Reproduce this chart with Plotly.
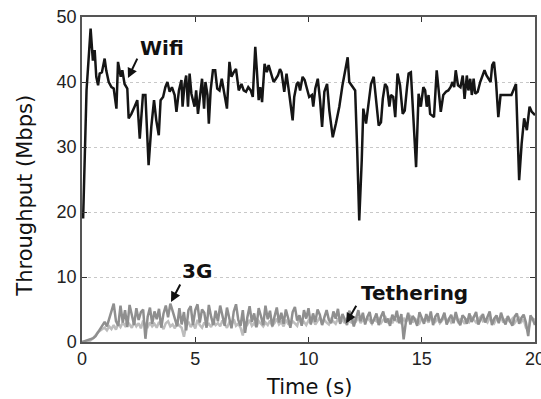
import plotly.graph_objects as go

# Wifi throughput trace (time in s, Mbps)
wifi_t = [0.05, 0.2, 0.38, 0.48, 0.56, 0.63, 0.71, 0.78, 0.88, 1.0, 1.07, 1.18,
          1.3, 1.4, 1.52, 1.59, 1.71, 1.78, 1.88, 2.0, 2.06, 2.18, 2.32, 2.44,
          2.55, 2.69, 2.8, 2.84, 2.94, 3.06, 3.18, 3.28, 3.39, 3.47, 3.58, 3.68,
          3.77, 3.87, 3.97, 4.09, 4.17, 4.28, 4.39, 4.44, 4.53, 4.6, 4.68, 4.75,
          4.83, 4.97, 5.04, 5.12, 5.2, 5.3, 5.39, 5.45, 5.54, 5.6, 5.68, 5.78,
          5.88, 5.97, 6.07, 6.17, 6.26, 6.4, 6.51, 6.6, 6.7, 6.8, 6.92, 7.04,
          7.14, 7.24, 7.34, 7.45, 7.54, 7.65, 7.72, 7.8, 7.87, 7.95, 8.06, 8.16,
          8.24, 8.36, 8.46, 8.56, 8.65, 8.74, 8.81, 8.93, 9.03, 9.13, 9.22, 9.3,
          9.37, 9.48, 9.55, 9.63, 9.74, 9.83, 9.93, 10.03, 10.15, 10.21, 10.3,
          10.41, 10.51, 10.6, 10.7, 10.82, 10.92, 11.07, 11.21, 11.36, 11.5,
          11.65, 11.73, 11.8, 11.95, 12.06, 12.15, 12.24, 12.35, 12.42, 12.54,
          12.66, 12.76, 12.88, 12.99, 13.1, 13.2, 13.28, 13.38, 13.47, 13.57,
          13.64, 13.74, 13.83, 13.93, 14.04, 14.16, 14.25, 14.35, 14.42, 14.52,
          14.63, 14.75, 14.86, 14.96, 15.07, 15.15, 15.22, 15.3, 15.37, 15.48,
          15.54, 15.66, 15.76, 15.84, 15.95, 16.07, 16.17, 16.27, 16.36, 16.43,
          16.5, 16.6, 16.71, 16.81, 16.89, 16.99, 17.06, 17.14, 17.21, 17.29,
          17.36, 17.47, 17.58, 17.7, 17.77, 17.86, 17.96, 18.04, 18.11, 18.19,
          18.28, 18.38, 18.48, 18.74, 18.96, 19.16, 19.3, 19.41, 19.52, 19.64,
          19.76, 19.86, 20.0]
wifi_v = [19.0, 38.7, 48.2, 43.3, 44.9, 40.8, 39.5, 41.3, 41.5, 43.6, 41.8, 40.0,
          39.2, 39.0, 35.9, 43.1, 40.8, 41.8, 39.7, 39.0, 34.4, 35.1, 36.2, 37.2,
          31.3, 38.0, 38.0, 35.1, 27.2, 33.1, 37.2, 34.1, 31.8, 37.2, 37.7, 39.2,
          40.0, 38.5, 39.2, 38.0, 35.4, 38.7, 40.3, 36.2, 39.7, 41.0, 36.2, 41.3,
          38.2, 36.2, 38.7, 35.1, 38.0, 40.5, 35.9, 40.0, 38.0, 33.6, 38.7, 41.8,
          41.8, 39.0, 38.7, 40.5, 38.7, 35.9, 43.1, 40.8, 41.5, 42.0, 38.7, 39.7,
          38.7, 38.5, 39.2, 38.7, 37.7, 45.4, 41.8, 37.2, 39.2, 36.9, 42.8, 41.5,
          42.6, 41.3, 40.0, 40.5, 41.0, 42.0, 41.5, 38.5, 41.3, 38.7, 36.2, 34.1,
          37.7, 39.7, 40.0, 38.7, 40.8, 40.3, 39.0, 37.7, 38.0, 36.2, 39.0, 40.5,
          37.2, 33.1, 38.5, 39.7, 35.6, 31.5, 33.6, 36.2, 39.5, 42.0, 43.8, 40.0,
          39.2, 38.7, 29.5, 18.7, 27.9, 35.9, 33.6, 37.4, 39.7, 40.8, 36.7, 33.3,
          33.8, 37.4, 39.7, 39.2, 36.2, 38.0, 37.7, 34.6, 41.3, 39.5, 35.1, 35.6,
          39.2, 41.3, 41.5, 34.6, 26.9, 38.2, 36.2, 39.2, 38.7, 36.2, 38.0, 35.1,
          34.7, 34.6, 41.8, 38.0, 35.4, 38.0, 38.5, 38.7, 39.2, 40.0, 39.2, 41.8,
          39.5, 39.2, 41.0, 37.4, 41.0, 38.7, 40.5, 38.0, 40.5, 38.2, 38.5, 40.0,
          41.0, 41.8, 41.0, 40.5, 40.0, 42.6, 43.1, 40.0, 34.6, 38.0, 38.0, 38.0,
          39.7, 24.9, 30.5, 34.4, 32.6, 36.2, 35.4, 34.9]

# Cellular traces sampled every 0.1 s
cell_t = [round(0.1 * i, 1) for i in range(201)]
g3_v = [0.0, 0.1, 0.2, 0.3, 0.4, 0.6, 0.9, 1.4, 2.0, 2.6,
        3.1, 2.4, 3.5, 4.8, 5.9, 3.2, 2.5, 5.6, 3.0, 4.9,
        2.3, 5.7, 4.1, 2.6, 5.2, 3.4, 4.6, 5.0, 0.5, 3.9,
        5.3, 2.8, 4.7, 3.5, 5.1, 2.2, 4.4, 5.6, 3.8, 5.9,
        4.8, 3.5, 2.4, 5.2, 2.7, 4.6, 1.8, 4.9, 5.5, 2.6,
        4.9, 5.8, 3.0, 5.0, 4.5, 2.2, 5.7, 3.9, 2.6, 4.8,
        3.2, 5.6, 4.1, 2.5, 5.3, 3.6, 2.1, 4.7, 5.8, 3.4,
        2.5, 4.9, 1.4, 3.8, 5.5, 3.1, 4.4, 2.3, 5.2, 4.0,
        2.6, 5.6, 3.5, 4.8, 2.4, 3.9, 5.3, 3.0, 4.5, 2.8,
        5.0, 3.7, 2.2, 4.6, 5.4, 3.3, 4.1, 2.5, 4.9, 3.6,
        5.2, 2.7, 4.4, 3.1, 5.0, 4.2, 2.6, 3.8, 4.9, 3.4,
        2.9, 4.7, 3.6, 5.1, 2.8, 4.3, 3.5, 2.6, 4.8, 3.9,
        2.4, 3.8, 4.9, 3.2, 4.5, 2.7, 3.9, 4.6, 2.8, 3.5,
        4.4, 2.6, 3.9, 4.7, 3.0, 3.6, 2.5, 4.2, 3.3, 4.8,
        2.9, 4.3, 0.4, 3.1, 4.5, 2.7, 4.0, 3.4, 2.5, 4.6,
        3.8, 2.8, 4.3, 3.2, 4.7, 2.6, 3.9, 4.4, 3.0, 3.6,
        4.5, 2.7, 3.5, 4.2, 2.9, 4.6, 3.3, 2.6, 4.1, 3.7,
        2.8, 4.4, 3.1, 3.8, 4.6, 2.7, 3.5, 4.3, 3.0, 3.9,
        4.7, 2.6, 3.6, 4.1, 2.9, 4.5, 3.4, 2.7, 4.0, 3.2,
        2.5, 3.9, 4.4, 2.8, 3.7, 4.2, 3.0, 0.9, 4.1, 3.5,
        2.6]
teth_v = [0.0, 0.0, 0.0, 0.1, 0.3, 0.6, 1.0, 1.5, 1.8, 2.0,
          2.2, 1.8, 2.4, 2.0, 2.6, 1.9, 2.8, 2.3, 3.0, 2.5,
          3.2, 2.6, 2.2, 3.1, 2.4, 2.9, 2.1, 3.3, 2.6, 2.3,
          3.0, 2.4, 2.8, 2.2, 3.1, 2.6, 2.0, 2.9, 3.2, 2.4,
          2.7, 2.1, 3.0, 2.5, 2.2, 0.8, 2.6, 3.1, 2.3, 2.8,
          2.1, 3.4, 2.6, 2.2, 3.0, 2.5, 2.8, 2.3, 3.2, 2.6,
          2.9, 2.4, 3.3, 2.7, 2.2, 3.0, 2.6, 3.5, 2.5, 2.8,
          2.2, 1.0, 3.1, 2.7, 3.4, 2.5, 2.9, 2.3, 3.2, 2.8,
          2.4, 3.0, 2.6, 3.3, 2.5, 2.9, 3.6, 2.7, 3.1, 2.4,
          3.4, 2.8, 2.6, 3.2, 2.9, 2.5, 3.7, 2.8, 3.1, 2.6,
          3.3, 2.9, 3.6, 2.7, 3.2, 3.8, 2.8, 3.4, 3.0, 2.7,
          3.5, 3.1, 2.8, 3.6, 3.0, 3.4, 2.9, 3.7, 3.2, 3.0,
          3.6, 3.2, 3.8, 2.9, 3.4, 3.1, 3.7, 3.3, 2.8, 3.5,
          3.2, 3.6, 2.9, 3.4, 3.8, 3.1, 3.5, 2.9, 3.6, 3.2,
          3.4, 2.8, 3.7, 3.1, 3.5, 3.9, 3.0, 3.6, 3.3, 2.9,
          3.7, 3.2, 3.5, 3.0, 3.8, 3.4, 3.1, 3.6, 2.9, 3.3,
          3.9, 3.2, 3.6, 3.0, 3.4, 3.8, 3.1, 3.5, 3.3, 2.8,
          3.6, 3.1, 3.8, 3.3, 3.0, 3.5, 3.9, 3.2, 3.4, 3.0,
          3.7, 3.3, 2.9, 3.6, 3.2, 3.8, 3.0, 3.5, 3.4, 3.1,
          3.6, 2.9, 3.4, 3.7, 3.1, 3.5, 2.2, 1.8, 3.3, 3.6,
          3.4]

x_ticks = [0, 5, 10, 15, 20]
y_ticks = [0, 10, 20, 30, 40, 50]

TICKFONT = "Liberation Sans, Arial, sans-serif"
TEXTFONT = "DejaVu Sans, sans-serif"

fig = go.Figure()
fig.add_trace(go.Scatter(x=cell_t, y=teth_v, mode="lines",
                         line=dict(color="#bdbdbd", width=2.5), name="Tethering"))
fig.add_trace(go.Scatter(x=cell_t, y=g3_v, mode="lines",
                         line=dict(color="#8f8f8f", width=2.5), name="3G"))
fig.add_trace(go.Scatter(x=wifi_t, y=wifi_v, mode="lines",
                         line=dict(color="#151515", width=2.5), name="Wifi"))

axis_common = dict(showline=True, linecolor="#555555", linewidth=1.5, mirror="ticks",
                   ticks="inside", ticklen=5, tickcolor="#333333",
                   tickfont=dict(family=TICKFONT, size=18, color="#222222"),
                   zeroline=False, ticklabeloverflow="allow", automargin=False)

fig.update_xaxes(range=[0, 20], tickvals=x_ticks, showgrid=False, **axis_common)
fig.update_yaxes(range=[0, 50], tickvals=y_ticks, showgrid=True,
                 gridcolor="#c8c8c8", griddash="dot", gridwidth=1, **axis_common)

anns = [
    dict(x=3.55, y=45.3, text="<b>Wifi</b>", showarrow=False,
         font=dict(family=TEXTFONT, size=20, color="#111")),
    dict(x=2.03, y=40.6, ax=10, ay=-21, text="", showarrow=True,
         arrowhead=2, arrowsize=1, arrowwidth=2, arrowcolor="#111"),
    dict(x=5.06, y=10.9, text="<b>3G</b>", showarrow=False,
         font=dict(family=TEXTFONT, size=20, color="#111")),
    dict(x=3.93, y=6.15, ax=10, ay=-19, text="", showarrow=True,
         arrowhead=2, arrowsize=1, arrowwidth=2, arrowcolor="#111"),
    dict(x=14.66, y=7.6, text="<b>Tethering</b>", showarrow=False,
         font=dict(family=TEXTFONT, size=20, color="#111")),
    dict(x=11.66, y=2.9, ax=11, ay=-19, text="", showarrow=True,
         arrowhead=2, arrowsize=1, arrowwidth=2, arrowcolor="#111"),
    dict(x=0.5, y=-0.138, xref="paper", yref="paper", text="Time (s)", showarrow=False,
         xanchor="center", yanchor="middle", font=dict(family=TEXTFONT, size=21, color="#111")),
    dict(x=-0.126, y=0.45, xref="paper", yref="paper", text="Throughput (Mbps)",
         showarrow=False, textangle=-90, xanchor="center", yanchor="middle",
         font=dict(family=TEXTFONT, size=21, color="#111")),
]
fig.update_layout(
    width=541, height=399,
    margin=dict(l=82, r=6, t=17, b=57, autoexpand=False),
    plot_bgcolor="white", paper_bgcolor="white",
    showlegend=False,
    annotations=anns,
)

fig.write_html("out.html")
